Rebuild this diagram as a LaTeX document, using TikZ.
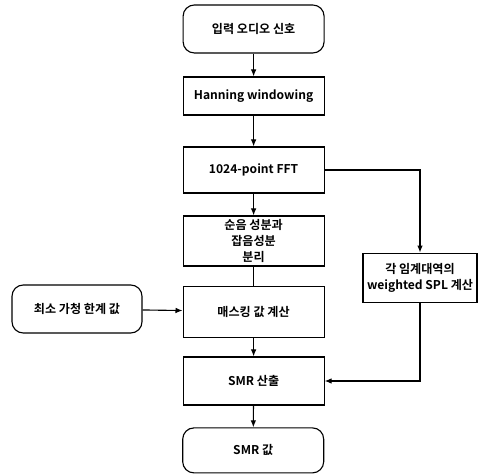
\documentclass[tikz,border=0pt]{standalone}
\usepackage{fontspec}
\setmainfont{Noto Sans CJK KR}[BoldFont={Noto Sans CJK KR Bold}]
\usetikzlibrary{arrows.meta}
\begin{document}
\begin{tikzpicture}[every node/.style={font=\fontsize{8.6}{11.4}\selectfont\bfseries, align=center},
  blk/.style={draw, thick, minimum width=3.525cm, inner sep=1pt},
  term/.style={blk, rounded corners=8pt},
  arr/.style={-{Latex[length=5pt,width=4pt]}, thick}]
  \useasboundingbox (0,0) rectangle (12.225,-11.875);
  \node[term, minimum height=1.2cm] (in) at (6.34,-0.725) {입력 오디오 신호};
  \node[blk, minimum height=0.95cm] (win) at (6.34,-2.4) {Hanning windowing};
  \node[blk, minimum height=1.15cm] (fft) at (6.34,-4.25) {1024-point FFT};
  \node[blk, minimum height=1.25cm] (sep) at (6.34,-6.025) {순음 성분과\\잡음성분\\분리};
  \node[blk, minimum height=1.275cm] (mask) at (6.34,-7.79) {매스킹 값 계산};
  \node[blk, minimum height=1.2cm] (smr) at (6.34,-9.525) {SMR 산출};
  \node[term, minimum height=1.125cm] (out) at (6.33,-11.26) {SMR 값};
  \node[term, minimum width=3.25cm, minimum height=1.2cm] (thr) at (1.925,-7.725) {최소 가청 한계 값};
  \node[blk, minimum width=2.85cm, minimum height=1.225cm] (spl) at (10.5,-6.94) {각 임계대역의\\weighted SPL 계산};
  \draw[arr] (in) -- (win);
  \draw[arr] (win) -- (fft);
  \draw[arr] (fft) -- (sep);
  \draw[arr] (thr) -- (mask);
  \draw[thick] (sep) -- (mask);
  \draw[arr] (mask) -- (smr);
  \draw[arr] (smr) -- (out);
  \draw[arr] (fft.east) -| (spl.north);
  \draw[arr] (spl.south) |- (smr.east);
\end{tikzpicture}
\end{document}
